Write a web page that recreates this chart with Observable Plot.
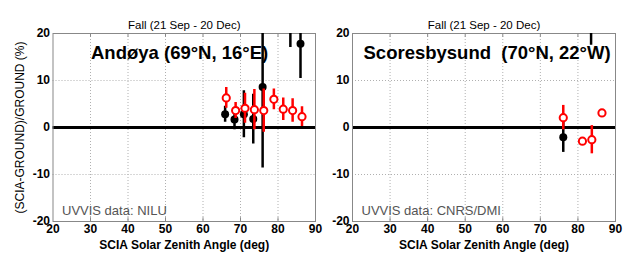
<!DOCTYPE html>
<html>
<head>
<meta charset="utf-8">
<script src="https://cdn.jsdelivr.net/npm/d3@7"></script>
<script src="https://cdn.jsdelivr.net/npm/@observablehq/plot@0.6"></script>
<style>
  body { margin: 0; background: #fff; }
  #wrap { display: flex; width: 629px; height: 253px; overflow: hidden; background: #fff; }
  #wrap svg { overflow: visible; flex: none; max-width: none; }
</style>
</head>
<body>
<div id="wrap"></div>
<script>
const xTicks = [20, 30, 40, 50, 60, 70, 80, 90];
const yTicks = [-20, -10, 0, 10, 20];
const seasonTitle = "Fall (21 Sep - 20 Dec)";

// Andøya
const andBlackX = [65.9, 68.4, 70.9, 73.4, 75.9, 83.3, 86.0];
const andBlackY = [2.8, 1.7, 2.8, 1.8, 8.6, 26.0, 17.8];
const andBlackE = [1.7, 2.2, 5.0, 5.3, 17.2, 9.0, 7.4];
const andRedX = [66.2, 68.7, 71.2, 73.7, 76.2, 78.9, 81.4, 83.9, 86.4];
const andRedY = [6.3, 3.6, 4.1, 3.8, 3.6, 6.0, 3.9, 3.6, 2.3];
const andRedE = [2.2, 1.7, 3.2, 4.3, 4.6, 2.2, 2.4, 2.5, 2.1];

// Scoresbysund
const scoBlackX = [76.1, 83.5];
const scoBlackY = [-2.1, 25.0];
const scoBlackE = [3.2, 7.5];
const scoRedX = [76.1, 81.2, 83.7, 86.4];
const scoRedY = [2.1, -2.9, -2.6, 3.1];
const scoRedE = [2.6, 0, 3.0, 0];

const zip = (xs, ys, es) => xs.map((x, i) => ({x, y: ys[i], e: es[i]}));

function panel({station, stationDx, source, black, red, width, marginLeft, marginRight, showYLabel}) {
  const font = "Liberation Sans, Arial, Helvetica, sans-serif";
  const inner = xTicks.slice(1, -1);
  return Plot.plot({
    width, height: 253,
    marginLeft, marginRight, marginTop: 33, marginBottom: 32,
    style: {fontFamily: font, background: "transparent", overflow: "visible"},
    x: {domain: [20, 90], label: null},
    y: {domain: [-20, 20], label: null},
    marks: [
      Plot.gridX(inner, {stroke: "#b0b0b0", strokeOpacity: 1, strokeDasharray: "1,2"}),
      Plot.gridY(yTicks.slice(1, -1), {stroke: "#b0b0b0", strokeOpacity: 1, strokeDasharray: "1,2"}),
      Plot.ruleY([0], {stroke: "black", strokeWidth: 3}),
      Plot.frame({stroke: "#888"}),
      Plot.axisX({ticks: xTicks, tickFormat: d => String(d), tickSize: 0, tickPadding: 3, fontSize: 12, fontWeight: "bold", fill: "black", label: null}),
      Plot.axisY({ticks: yTicks, tickFormat: d => String(d), tickSize: 0, tickPadding: 3, fontSize: 12, fontWeight: "bold", fill: "black", label: null}),
      Plot.ruleX(inner, {x: d => d, y1: -20, y2: -19.2, stroke: "#888", strokeWidth: 1}),
      Plot.ruleX(inner, {x: d => d, y1: 19.2, y2: 20, stroke: "#888", strokeWidth: 1}),
      Plot.ruleX(black, {x: "x", y1: d => d.y - d.e, y2: d => d.y + d.e, stroke: "black", strokeWidth: 2.5, clip: true}),
      Plot.dot(black, {x: "x", y: "y", r: 4, fill: "black", clip: true}),
      Plot.ruleX(red.filter(d => d.e > 0), {x: "x", y1: d => d.y - d.e, y2: d => d.y + d.e, stroke: "red", strokeWidth: 2.5, clip: true}),
      Plot.dot(red, {x: "x", y: "y", r: 3.6, stroke: "red", fill: "white", strokeWidth: 2, clip: true}),
      Plot.text([seasonTitle], {frameAnchor: "top", dy: -13, fontSize: 11.5, fill: "black"}),
      Plot.text([station], {frameAnchor: "top-left", dx: stationDx, dy: 12, fontSize: 18.5, fontWeight: "bold", fill: "black", textAnchor: "start"}),
      Plot.text([source], {frameAnchor: "bottom-left", dx: 9, dy: -7, fontSize: 13, fill: "#555", textAnchor: "start"}),
      Plot.text(["SCIA Solar Zenith Angle (deg)"], {frameAnchor: "bottom", dy: 27, fontSize: 12, fontWeight: "bold", fill: "black"}),
      showYLabel ? Plot.text(["(SCIA-GROUND)/GROUND (%)"], {frameAnchor: "left", dx: -33, rotate: -90, textAnchor: "middle", fontSize: 12, fill: "black"}) : null
    ]
  });
}

const wrap = document.getElementById("wrap");
wrap.appendChild(panel({
  station: "Andøya (69°N, 16°E)", stationDx: 38, source: "UVVIS data: NILU",
  black: zip(andBlackX, andBlackY, andBlackE), red: zip(andRedX, andRedY, andRedE),
  width: 315, marginLeft: 52.5, marginRight: 0, showYLabel: true
}));
wrap.appendChild(panel({
  station: "Scoresbysund\u00a0 (70°N, 22°W)", stationDx: 11, source: "UVVIS data: CNRS/DMI",
  black: zip(scoBlackX, scoBlackY, scoBlackE), red: zip(scoRedX, scoRedY, scoRedE),
  width: 314, marginLeft: 37, marginRight: 14, showYLabel: false
}));
</script>
</body>
</html>
